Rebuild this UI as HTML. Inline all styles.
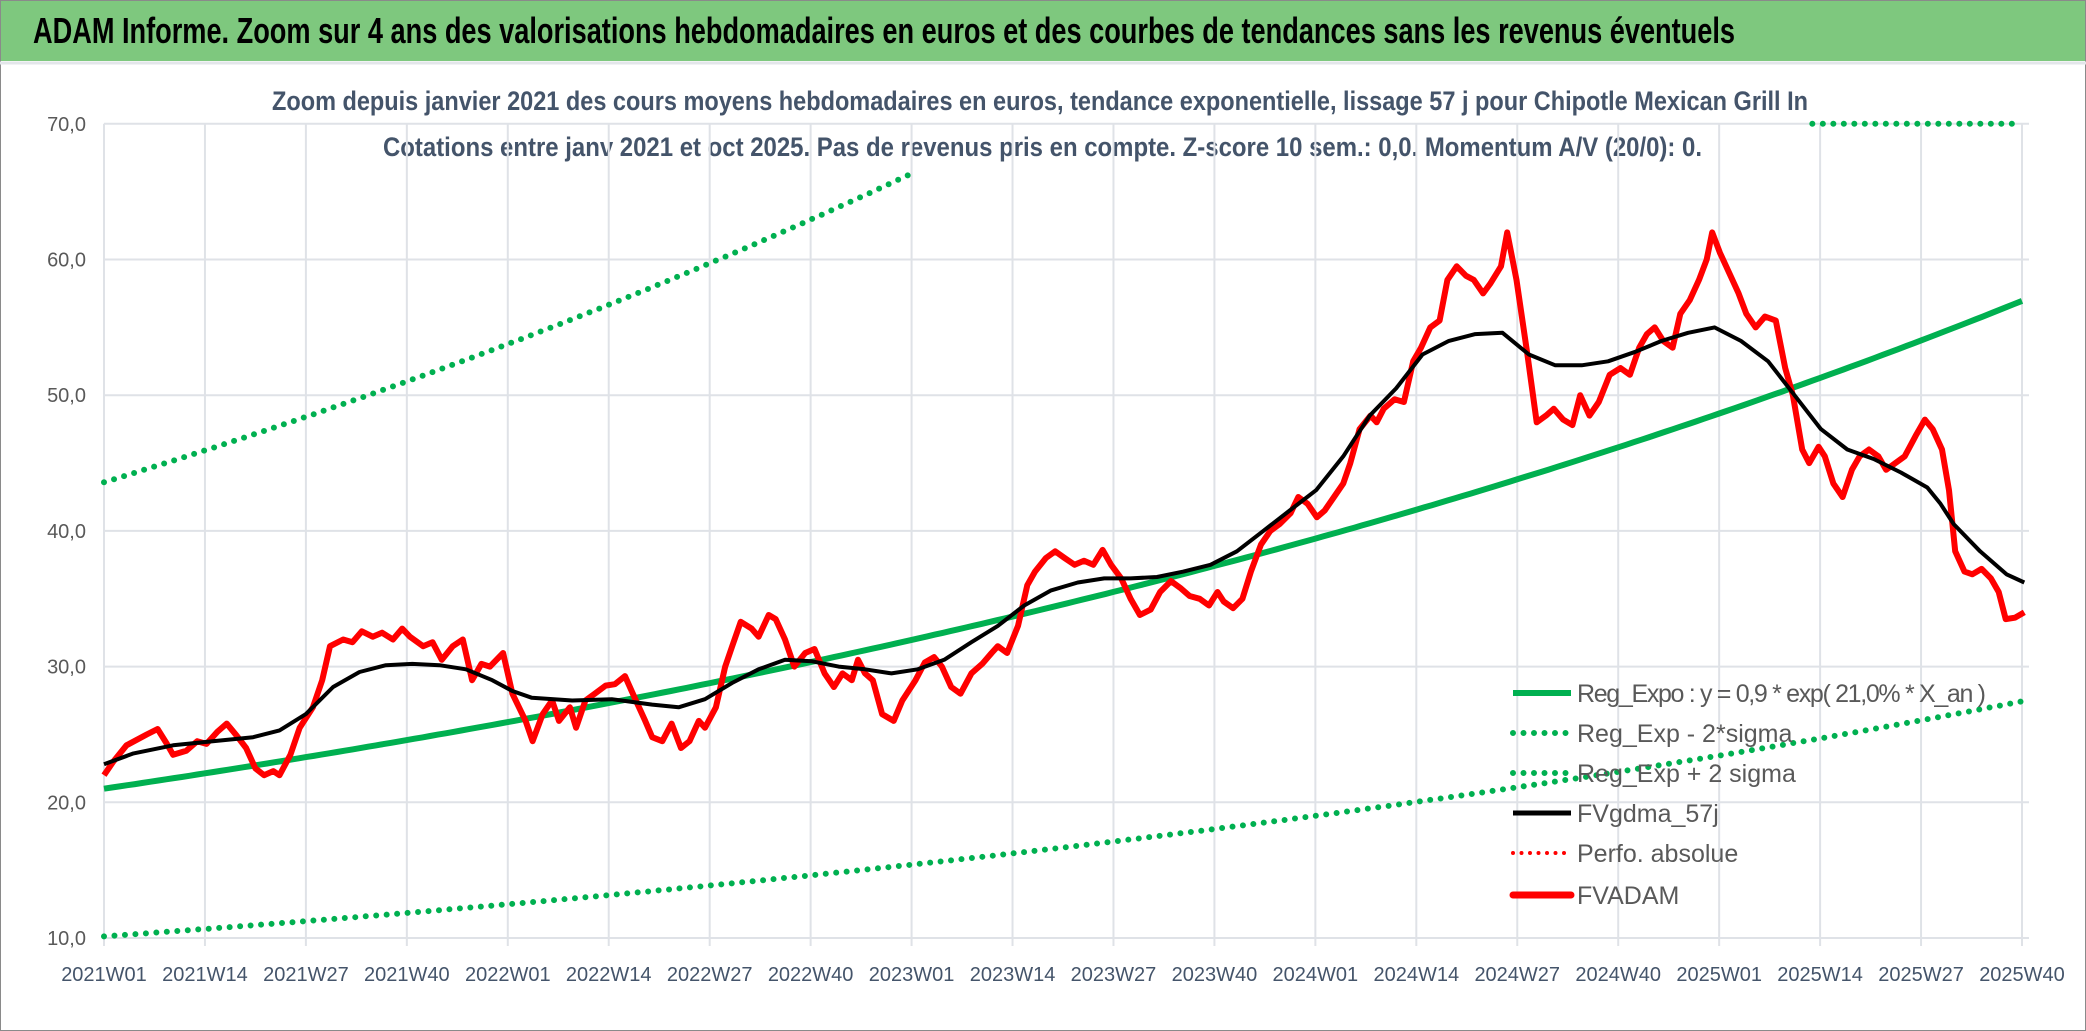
<!DOCTYPE html>
<html><head><meta charset="utf-8"><style>
html,body{margin:0;padding:0;background:#fff}
svg{display:block;font-family:"Liberation Sans",sans-serif}
</style></head><body>
<svg id="chart" width="2086" height="1031" viewBox="0 0 2086 1031" xmlns="http://www.w3.org/2000/svg">
<rect x="0" y="0" width="2086" height="1031" fill="#fff" stroke="#8a8a8a" stroke-width="2"/>
<rect x="1" y="1" width="2084" height="60" fill="#7ec87e"/>
<line x1="0" y1="63" x2="2086" y2="63" stroke="#e3e6ea" stroke-width="3"/>
<text x="33" y="43" font-size="36" font-weight="bold" fill="#000" textLength="1702" lengthAdjust="spacingAndGlyphs">ADAM Informe. Zoom sur 4 ans des valorisations hebdomadaires en euros et des courbes de tendances sans les revenus éventuels</text>
<text x="272" y="110" font-size="27" font-weight="bold" fill="#44546a" textLength="1536" lengthAdjust="spacingAndGlyphs">Zoom depuis janvier 2021 des cours moyens hebdomadaires en euros, tendance exponentielle, lissage 57 j pour Chipotle Mexican Grill In</text>
<text x="383" y="156" font-size="27" font-weight="bold" fill="#44546a" textLength="1319" lengthAdjust="spacingAndGlyphs">Cotations entre janv 2021 et oct 2025. Pas de revenus pris en compte. Z-score 10 sem.: 0,0. Momentum A/V (20/0): 0.</text>
<g id="grid"></g><g id="axes"></g>
<defs><clipPath id="pc"><rect x="100" y="118" width="1935" height="826"/></clipPath></defs>
<g id="series" clip-path="url(#pc)"></g>
<g id="legend"></g>
</svg>
<script>
const xLabels=["2021W01","2021W14","2021W27","2021W40","2022W01","2022W14","2022W27","2022W40","2023W01","2023W14","2023W27","2023W40","2024W01","2024W14","2024W27","2024W40","2025W01","2025W14","2025W27","2025W40"];
const yTicks=[10,20,30,40,50,60,70];
const yTickLabels=["10,0","20,0","30,0","40,0","50,0","60,0","70,0"];
const regA=0.9, regB=0.21, xAnStart=15.0, sigmaFactor=0.73;
const upperEndWeek=104;
const upperCapStartWeek=220;
const priceWeeks=[0,1.2,2.9,5.5,6.9,8.1,8.9,10.6,12,13.2,14.6,15.8,17.1,18.3,19.5,20.6,21.8,22.6,24,25.2,26.9,28.1,29.1,30.8,32,33.2,34.6,35.8,37.2,38.4,39.4,41.1,42.3,43.5,44.9,46.2,47.4,48.6,49.7,51.4,52.6,54.3,55.2,56.5,57.7,58.6,60,60.8,62,63.2,64.6,65.8,67.1,68.5,69.7,70.6,71.9,73.1,74.3,75.4,76.6,77.4,78.8,80,80.9,82,83.4,84.3,85.6,86.5,87.7,88.9,90.3,91.5,92.8,94,95.1,96.3,97.1,98,99,100.2,101.7,102.8,104.5,105.7,106.9,107.9,109.1,110.3,111.7,113.1,114.3,115.1,116.3,117.7,118.9,119.9,121.3,122.5,123.7,125,126.2,127.4,128.6,129.7,131,132.2,133.4,134.8,136,137.4,138.6,139.8,141.1,142.3,143.4,144.2,145.4,146.6,147.7,149,150.2,151.4,152.8,153.8,155,156.2,157.2,158.4,159.6,160.5,161.7,163.1,163.9,164.8,166.2,167.4,168.6,169.6,170.8,172,173,174.2,175.4,176.4,177.6,178.5,179.9,180.7,181.9,183.3,184.5,185.7,186.7,187.9,189.1,190.1,191.3,192.5,193.9,195.3,196.5,197.7,198.7,199.7,200.8,202,203,204.2,205.4,206.4,207.1,208.1,209.3,210.5,211.5,212.7,213.9,215.3,216.5,217.5,218.7,219.6,220.8,221.6,222.7,223.9,225.1,226.1,227.3,228.5,229.5,230.7,231.9,233.3,234.5,235.5,236.7,237.6,238.4,239.6,240.6,241.8,243,244,244.9,246.1,247.3];
const priceValues=[22.0,23,24.2,25.0,25.4,24.3,23.5,23.8,24.5,24.3,25.2,25.8,24.9,24.0,22.5,22.0,22.3,22.0,23.5,25.5,27.0,29,31.5,32.0,31.8,32.6,32.2,32.5,32.0,32.8,32.2,31.5,31.8,30.5,31.5,32.0,29.0,30.2,30.0,31.0,28.0,26.0,24.5,26.5,27.5,26.0,27.0,25.5,27.5,28.0,28.6,28.7,29.3,27.5,26.0,24.8,24.5,25.8,24.0,24.5,26.0,25.5,27.0,30.0,31.5,33.3,32.8,32.2,33.8,33.5,32.0,30.0,31.0,31.3,29.5,28.5,29.5,29.0,30.5,29.5,29.0,26.5,26.0,27.5,29.0,30.3,30.7,30.0,28.5,28.0,29.5,30.2,31.0,31.5,31.0,33.0,36.0,37.0,38.0,38.5,38.0,37.5,37.8,37.5,38.6,37.5,36.5,35.0,33.8,34.2,35.5,36.3,35.8,35.2,35.0,34.5,35.5,34.8,34.3,35.0,37.0,39.0,40.0,40.5,41.3,42.5,42.0,41.0,41.5,42.5,43.5,45.0,47.5,48.5,48.0,49.0,49.7,49.5,52.5,53.5,55.0,55.5,58.5,59.5,58.8,58.5,57.5,58.2,59.5,62.0,58.5,53.0,48.0,48.5,49.0,48.2,47.8,50.0,48.5,49.5,51.5,52.0,51.5,53.5,54.5,55.0,54.0,53.5,56.0,57.0,58.5,60.0,62.0,60.5,59.0,57.5,56.0,55.0,55.8,55.5,52.0,50.0,46.0,45.0,46.2,45.5,43.5,42.5,44.5,45.5,46.0,45.5,44.5,45.0,45.5,47.0,48.2,47.5,46.0,43.0,38.5,37.0,36.8,37.2,36.5,35.5,33.5,33.6,34.0];
const maWeeks=[0,3.8,8.9,14,19.2,22.6,26,29.5,32.9,36.3,39.7,43.2,46.6,50,52.6,55.1,60.3,65.4,70.6,74,77.4,80.9,84.3,87.7,91.1,94.6,98,101.4,104.8,108.2,111.7,115.1,118.5,121.9,125.4,128.8,132.2,135.6,139,142.5,145.9,149.3,152.7,156.1,159.6,163,166.4,169.8,173.2,176.6,180.1,183.5,186.9,190.3,193.7,197.2,200.6,204,207.4,210.8,214.3,217.7,221.1,224.5,227.9,231.4,234.8,236.5,238.2,241.6,245,247.3];
const maValues=[22.8,23.6,24.2,24.5,24.8,25.3,26.5,28.5,29.6,30.1,30.2,30.1,29.8,29.0,28.2,27.7,27.5,27.6,27.2,27.0,27.6,28.8,29.8,30.5,30.4,30.0,29.8,29.5,29.8,30.5,31.8,33.0,34.5,35.6,36.2,36.5,36.5,36.6,37.0,37.5,38.5,40.0,41.5,43.0,45.5,48.5,50.5,53.0,54.0,54.5,54.6,53.0,52.2,52.2,52.5,53.2,54.0,54.6,55.0,54.0,52.5,50.0,47.5,46.0,45.3,44.3,43.2,42.0,40.5,38.5,36.8,36.2];

const NS="http://www.w3.org/2000/svg";
const X0=104,X1=2022,NW=247,Y0=938,YS=13.57,GR=2029;
const xs=w=>X0+(X1-X0)*w/NW;
const ys=v=>Y0-(v-10)*YS;
function mk(tag,attrs,parent){const e=document.createElementNS(NS,tag);for(const k in attrs)e.setAttribute(k,attrs[k]);parent.appendChild(e);return e;}
const grid=document.getElementById('grid'),axes=document.getElementById('axes'),series=document.getElementById('series'),legend=document.getElementById('legend');
yTicks.forEach((t,i)=>{
 const l=mk('line',{x1:X0,x2:GR,y1:ys(t),y2:ys(t),stroke:'#dfe2e7','stroke-width':2},grid);
 
 
 const tx=mk('text',{x:86,y:ys(t)+7,'font-size':20,fill:'#595959','text-anchor':'end'},axes);
 tx.textContent=yTickLabels[i];
 
 
});
xLabels.forEach((lab,i)=>{
 const x=xs(i*13);
 const l=mk('line',{x1:x,x2:x,y1:ys(70),y2:Y0+8,stroke:'#dfe2e7','stroke-width':2},grid);
 
 
 const tx=mk('text',{x:x,y:981,'font-size':20,fill:'#44546a','text-anchor':'middle'},axes);
 tx.textContent=lab;
 
 
});
function path(ws,vs){return ws.map((w,i)=>(i?'L':'M')+xs(w).toFixed(1)+','+ys(vs[i]).toFixed(1)).join(' ');}
const regW=[],regV=[],loV=[],hiW=[],hiV=[];
for(let w=0;w<=NW;w++){const v=regA*Math.exp(regB*(xAnStart+w/52));regW.push(w);regV.push(v);loV.push(v*Math.exp(-sigmaFactor));const h=v*Math.exp(sigmaFactor);if(w<=upperEndWeek&&h<=70){hiW.push(w);hiV.push(h);}}
const dot={fill:'none',stroke:'#00b050','stroke-width':6,'stroke-linecap':'round','stroke-dasharray':'0 10.5'};
let p=mk('path',Object.assign({d:path(hiW,hiV)},dot),series);


p=mk('path',Object.assign({d:'M'+xs(upperCapStartWeek)+','+ys(70)+' L'+xs(NW)+','+ys(70)},dot),series);


p=mk('path',Object.assign({d:path(regW,loV)},dot),series);


p=mk('path',{d:path(regW,regV),fill:'none',stroke:'#00b050','stroke-width':6},series);


p=mk('path',{d:path(priceWeeks,priceValues),fill:'none',stroke:'#ff0000','stroke-width':6,'stroke-linejoin':'round'},series);


p=mk('path',{d:path(maWeeks,maValues),fill:'none',stroke:'#000','stroke-width':4,'stroke-linejoin':'round'},series);


const legNames=["Reg_Expo : y = 0,9 * exp( 21,0% *  X_an )","Reg_Exp - 2*sigma","Reg_Exp + 2 sigma","FVgdma_57j","Perfo. absolue","FVADAM"];
const legStyles=[{stroke:'#00b050','stroke-width':6},Object.assign({},dot),Object.assign({},dot),{stroke:'#000','stroke-width':5},{stroke:'#ff0000','stroke-width':4,'stroke-linecap':'round','stroke-dasharray':'0 8.5'},{stroke:'#ff0000','stroke-width':7,'stroke-linecap':'round'}];
const legY=[693,733,773,813,853,895];
const legLen=[409,0,0,0,0,0];
legNames.forEach((n,i)=>{
 const g=mk('g',{},legend);
 
 
 mk('line',Object.assign({x1:1513,x2:1571,y1:legY[i],y2:legY[i]},legStyles[i]),g);
 const a={x:1577,y:legY[i]+9,'font-size':25,fill:'#595959'};
 if(legLen[i])a.textLength=legLen[i];
 const t=mk('text',a,g);t.textContent=n;
});
</script>
</body></html>
